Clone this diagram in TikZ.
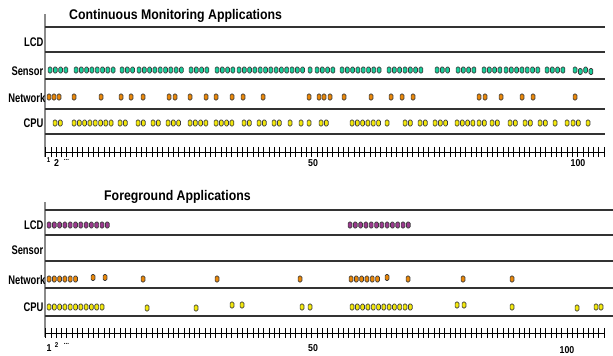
\documentclass[tikz,border=0pt]{standalone}
\usepackage{fontspec}
\newfontfamily\labfont[FakeStretch=0.75]{Liberation Sans}
\newfontfamily\ttlfont[FakeStretch=0.88]{Liberation Sans}

\definecolor{sensorc}{HTML}{19CF9A}
\definecolor{netc}{HTML}{E8870A}
\definecolor{cpuc}{HTML}{F3E80C}
\definecolor{lcdc}{HTML}{9B3A8E}
\definecolor{rulec}{HTML}{333333}
\definecolor{axisc}{HTML}{8A8A8A}
\definecolor{blipedge}{HTML}{3C3C3C}

% a run of activity marks: style, row y, list of start/count
\newcommand\blips[3]{%
  \foreach \s/\n in {#3}{%
    \foreach \i in {1,...,\n}{%
      \path[#1] ({\s+(\i-1)*5.3-1.9},{#2-3}) rectangle ({\s+(\i-1)*5.3+1.9},{#2+3});
    }%
  }%
}
% single activity marks: style, list of x/y
\newcommand\blipsat[2]{%
  \foreach \s/\yy in {#2}{%
    \path[#1] ({\s-1.9},{\yy-3}) rectangle ({\s+1.9},{\yy+3});
  }%
}

\begin{document}
\begin{tikzpicture}[x=1pt,y=-1pt,
  blip/.style={draw=blipedge,line width=0.7pt,rounded corners=1.3pt},
  sensorblip/.style={blip,fill=sensorc},
  netblip/.style={blip,fill=netc},
  cpublip/.style={blip,fill=cpuc},
  lcdblip/.style={blip,fill=lcdc},
  rowrule/.style={draw=rulec,line width=1.1pt},
  vaxis/.style={draw=axisc,line width=1.1pt},
  axisline/.style={draw=black,line width=1pt},
  tickmark/.style={draw=black,line width=1pt},
  rowlabel/.style={anchor=east,inner sep=0pt,font=\labfont\bfseries\fontsize{12.5}{13}\selectfont},
  paneltitle/.style={anchor=west,inner sep=0pt,font=\ttlfont\bfseries\fontsize{14}{15}\selectfont},
  ticknum/.style={inner sep=0pt,font=\ttlfont\bfseries\fontsize{10}{11}\selectfont},
  ticksmall/.style={inner sep=0pt,font=\ttlfont\bfseries\fontsize{7}{8}\selectfont},
]
\useasboundingbox (0,0) rectangle (613,356);

% ---------------- upper panel ----------------
\node[paneltitle] (t1) at (69,16) {Continuous Monitoring Applications};
\draw[vaxis] (45,14) -- (45,157);
\foreach \yy in {27,52,79,109,134}{\draw[rowrule] (45,\yy) -- (605,\yy);}
\node[rowlabel] (lcd1) at (43.5,42) {LCD};
\node[rowlabel] (sen1) at (43.5,71) {Sensor};
\node[rowlabel] (net1) at (45.5,98) {Network};
\node[rowlabel] (cpu1) at (43.5,123) {CPU};

% time axis, one tick per step
\draw[axisline] (45.7,152) -- (605,152);
\foreach \k in {0,...,105}{
  \fill[black] ({45.2+5.32*\k},147) rectangle ({46.2+5.32*\k},157);
}
\node[ticksmall] (o1) at (48.5,160) {1};
\node[ticknum] (o2) at (56.5,163) {2};
\node[ticksmall] (o3) at (66.5,160) {...};
\node[ticknum] (o50) at (313,163) {50};
\node[ticknum] (o100) at (578,163) {100};

% sensor
\blips{sensorblip}{70}{50/4,76/8,122/3,139/9,191/4,217/4,239/13,310/1,317/4,342/8,389/3,405/4,437/3,458/4,484/4,506/7,547/4}
\blipsat{sensorblip}{575/70,580.3/71.5,585.6/70,590.9/71.5}
% network
\blipsat{netblip}{49/97,54/97,59/97,74/97,101/97,121/97,131/97,143/97,169/97,175/97,190/97,206/97,216/97,232/97,243/97,263/97,309/97,319/97,324/97,330/97,344/97,371/97,391/97,402/97,413/97,479/97,485/97,501/97,522/97,533/97,575/97}
% cpu
\blips{cpublip}{123}{55/2,74/8,120/2,138/2,153/2,168/3,190/4,216/4,244/2,259/2,274/2,290/1,301/1,309/1,321/2,352/6,387/1,405/2,420/2,435/3,457/4,479/2,492/2,510/2,525/2,540/2,555/1,567/1,573/2,588/1}

% ---------------- lower panel ----------------
\node[paneltitle] (t2) at (104,197) {Foreground Applications};
\draw[vaxis] (45,202) -- (45,337);
\foreach \yy in {210,235,261,288,316}{\draw[rowrule] (45,\yy) -- (613,\yy);}
\node[rowlabel] (lcd2) at (43.5,225) {LCD};
\node[rowlabel] (sen2) at (43.5,250) {Sensor};
\node[rowlabel] (net2) at (45.5,280) {Network};
\node[rowlabel] (cpu2) at (43.5,307) {CPU};

% time axis, one tick per step
\draw[axisline] (45.7,333) -- (605,333);
\foreach \k in {0,...,105}{
  \fill[black] ({45.2+5.32*\k},328) rectangle ({46.2+5.32*\k},338);
}
\node[ticknum] (p1) at (49,348.5) {1};
\node[ticksmall] (p2) at (56.5,345) {2};
\node[ticksmall] (p3) at (66.5,344) {...};
\node[ticknum] (p50) at (313,348.5) {50};
\node[ticknum] (p100) at (567,350.5) {100};

% lcd
\blips{lcdblip}{225}{49/12,350/12}
% network
\blips{netblip}{279}{49/6,351/6}
\blipsat{netblip}{93/277.5,105/277.5,143/279,217/279,300/279,387/277.5,408/279,463/279,512/279}
% cpu
\blips{cpublip}{307}{49/11,352/12}
\blipsat{cpublip}{147/308,196/308,232/305,242/305,302/307,310/307,457/305,464/305,512/307,577/308,596/307,601/307}
\end{tikzpicture}
\end{document}
